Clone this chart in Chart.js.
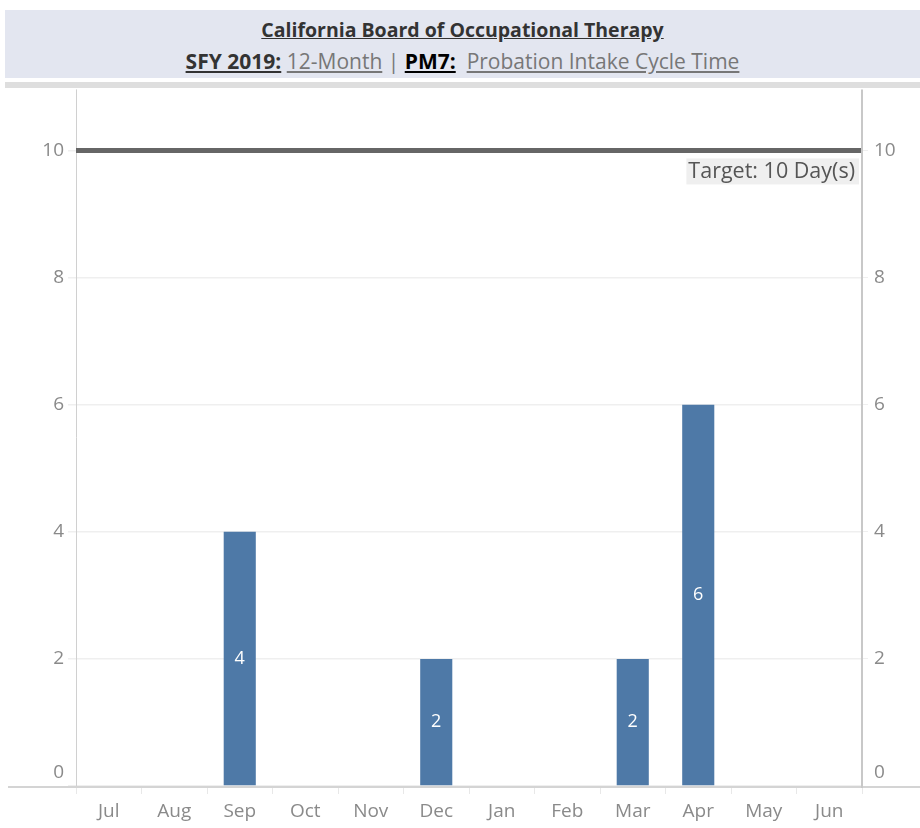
<!DOCTYPE html>
<html>
<head>
<meta charset="utf-8">
<script src="https://cdn.jsdelivr.net/npm/chart.js@4"></script>
<style>
  html, body { margin: 0; padding: 0; background: #fff; }
  body { width: 920px; height: 828px; position: relative; overflow: hidden; }
  #head {
    position: absolute; left: 5px; top: 10px; width: 915px; height: 68px;
    background: #e3e6f0; text-align: center;
    font-family: "Open Sans", sans-serif;
  }
  #t1 { position: absolute; left: 0; right: 0; top: 6px; font-size: 19.5px; font-weight: bold; color: #333; }
  #t2 { position: absolute; left: 0; right: 0; top: 37px; font-size: 21px; color: #777; }
  .u { text-decoration: underline; }
  .b1 { font-weight: bold; color: #333; }
  .b2 { font-weight: bold; color: #000; }
  #band { position: absolute; left: 5px; top: 82px; width: 915px; height: 6px; background: #dedede; }
  #wrap { position: absolute; left: 0; top: 72px; width: 920px; height: 756px; }
</style>
</head>
<body>
<div id="head">
  <div id="t1"><span class="u">California Board of Occupational Therapy</span></div>
  <div id="t2"><span class="u b1">SFY 2019:</span> <span class="u">12-Month</span> | <span class="u b2">PM7:</span>&nbsp; <span class="u">Probation Intake Cycle Time</span></div>
</div>
<div id="band"></div>
<div id="wrap"><canvas id="c" width="920" height="756"></canvas></div>
<script>
const months = ["Jul","Aug","Sep","Oct","Nov","Dec","Jan","Feb","Mar","Apr","May","Jun"];
const cycleDays = [null, null, 4, null, null, 2, null, null, 2, 6, null, null];
const targetDays = 10;
const targetLabel = "Target: 10 Day(s)";
const yTicks = [0, 2, 4, 6, 8, 10];

const FONT = "'Open Sans', sans-serif";
const TICK_COLOR = '#8a8a8a';

const extras = {
  id: 'extras',
  beforeDatasetsDraw(chart) {
    const ctx = chart.ctx, a = chart.chartArea, y = chart.scales.y;
    const y0 = y.getPixelForValue(0);
    ctx.save();
    ctx.strokeStyle = '#d4d4d4'; ctx.lineWidth = 2;
    ctx.beginPath(); ctx.moveTo(8, y0 + 1); ctx.lineTo(chart.width, y0 + 1); ctx.stroke();
    ctx.strokeStyle = '#d0d0d0'; ctx.lineWidth = 1;
    ctx.beginPath(); ctx.moveTo(a.left + 0.5, a.top); ctx.lineTo(a.left + 0.5, y0); ctx.stroke();
    ctx.strokeStyle = '#c8c8c8'; ctx.lineWidth = 2;
    ctx.beginPath(); ctx.moveTo(a.right, a.top); ctx.lineTo(a.right, y0 + 2); ctx.stroke();
    ctx.font = "19px " + FONT; ctx.fillStyle = TICK_COLOR; ctx.textBaseline = 'middle';
    ctx.textAlign = 'right'; ctx.fillText(String(yTicks[0]), a.left - 12, y0 - 13);
    ctx.textAlign = 'left'; ctx.fillText(String(yTicks[0]), a.right + 12, y0 - 13);
    ctx.restore();
  },
  afterDatasetsDraw(chart) {
    const ctx = chart.ctx, a = chart.chartArea, y = chart.scales.y;
    const ty = y.getPixelForValue(targetDays);
    ctx.save();
    ctx.strokeStyle = '#666'; ctx.lineWidth = 5;
    ctx.beginPath(); ctx.moveTo(a.left, ty); ctx.lineTo(a.right - 1, ty); ctx.stroke();
    ctx.font = "21.5px " + FONT;
    const w = ctx.measureText(targetLabel).width;
    const bx = a.right - 3 - w - 6, by = ty + 8;
    ctx.fillStyle = '#efefef';
    ctx.fillRect(bx, by, w + 6, 26);
    ctx.fillStyle = '#555'; ctx.textBaseline = 'middle'; ctx.textAlign = 'left';
    ctx.fillText(targetLabel, bx + 2, by + 13);
    const meta = chart.getDatasetMeta(0);
    ctx.font = "18px " + FONT; ctx.fillStyle = '#fff'; ctx.textAlign = 'center';
    meta.data.forEach((bar, i) => {
      const v = cycleDays[i];
      if (v == null) return;
      ctx.fillText(String(v), bar.x, (bar.y + bar.base) / 2);
    });
    ctx.restore();
  }
};

const yCommon = {
  min: 0, max: 10.96,
  afterBuildTicks(s) { s.ticks = yTicks.map(v => ({ value: v })); },
  border: { display: false },
};

new Chart(document.getElementById('c'), {
  type: 'bar',
  data: {
    labels: months,
    datasets: [{
      data: cycleDays,
      backgroundColor: '#4e79a7',
      categoryPercentage: 1.0,
      barPercentage: 0.49
    }]
  },
  options: {
    responsive: false,
    animation: false,
    layout: { padding: 0 },
    plugins: { legend: { display: false }, tooltip: { enabled: false } },
    scales: {
      x: {
        offset: true,
        grid: { offset: true, drawOnChartArea: false, color: '#e8e8e8', tickLength: 8 },
        border: { display: false },
        ticks: { color: TICK_COLOR, font: { family: FONT, size: 19 }, padding: 6 },
        afterFit(s) { s.height = 42; }
      },
      y: Object.assign({}, yCommon, {
        position: 'left',
        grid: { color: '#efefef', tickLength: 8, lineWidth: 1.5 },
        ticks: { color: TICK_COLOR, font: { family: FONT, size: 19 }, padding: 4,
                 callback: v => v === 0 ? '' : String(v) },
        afterFit(s) { s.width = 76; }
      }),
      y2: Object.assign({}, yCommon, {
        position: 'right',
        grid: { drawOnChartArea: false, color: '#efefef', tickLength: 6 },
        ticks: { color: TICK_COLOR, font: { family: FONT, size: 19 }, padding: 6,
                 callback: v => v === 0 ? '' : String(v) },
        afterFit(s) { s.width = 58; }
      })
    }
  },
  plugins: [extras]
});
</script>
</body>
</html>
